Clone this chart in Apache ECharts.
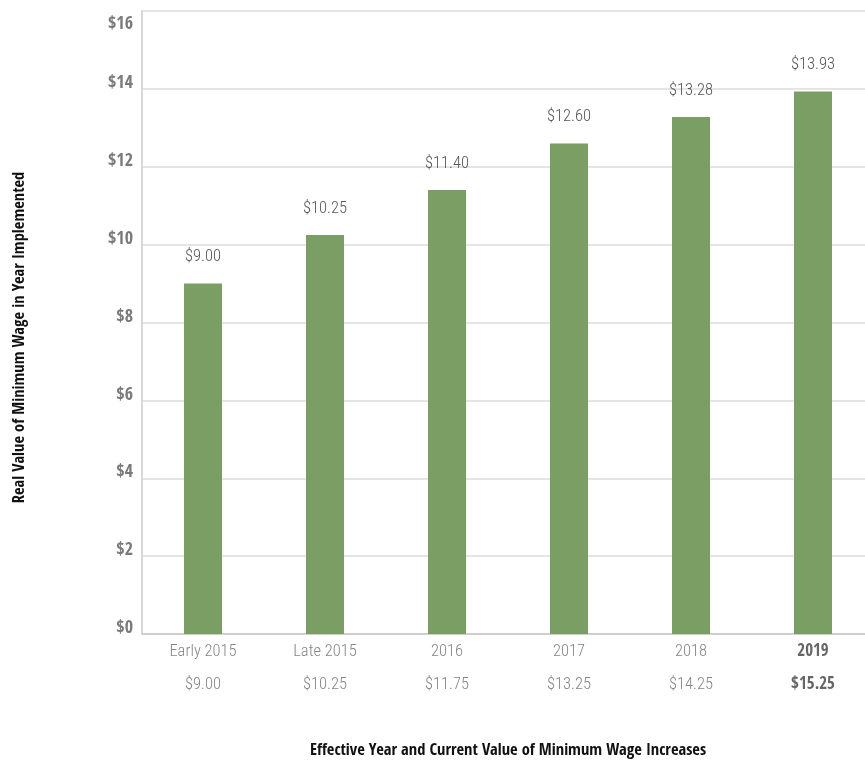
<!DOCTYPE html>
<html>
<head>
<meta charset="utf-8">
<script src="https://cdn.jsdelivr.net/npm/echarts@6/dist/echarts.min.js"></script>
<style>
html,body{margin:0;padding:0;background:#fff;}
#chart{width:865px;height:764px;}
</style>
</head>
<body>
<div id="chart"></div>
<script>
const years = ['Early 2015', 'Late 2015', '2016', '2017', '2018', '2019'];
const currentValues = ['$9.00', '$10.25', '$11.75', '$13.25', '$14.25', '$15.25'];
const realValues = [9.00, 10.25, 11.40, 12.60, 13.28, 13.93];
const yMin = 0, yMax = 16, yStep = 2;

const FONT = '"Open Sans Condensed", "Roboto Condensed", sans-serif';
const LIGHT = '"Roboto Condensed", sans-serif';

const yLab = { fontFamily: FONT, fontSize: 18, fontWeight: 'bold', color: '#7a7a7a' };

const chart = echarts.init(document.getElementById('chart'));
chart.setOption({
  animation: false,
  grid: { left: 142, top: 11, width: 732, bottom: 130, containLabel: false, outerBoundsMode: 'none' },
  xAxis: {
    type: 'category',
    data: years,
    name: 'Effective Year and Current Value of Minimum Wage Increases',
    nameLocation: 'middle',
    nameGap: 108,
    nameTextStyle: { fontFamily: FONT, fontSize: 16.5, fontWeight: 'bold', color: '#111' },
    axisLine: { lineStyle: { color: '#cfcfcf', width: 2 } },
    axisTick: { show: false },
    axisLabel: {
      margin: 1,
      formatter: function (v, i) {
        const k = i === years.length - 1 ? 'b' : 'a';
        return '{' + k + '|' + v + '}\n{' + k + '|' + currentValues[i] + '}';
      },
      rich: {
        a: { fontFamily: LIGHT, fontSize: 16.5, fontWeight: 300, color: '#858585', lineHeight: 33 },
        b: { fontFamily: FONT, fontSize: 17, color: '#666', fontWeight: 'bold', lineHeight: 33 }
      }
    }
  },
  yAxis: {
    type: 'value',
    min: yMin, max: yMax, interval: yStep,
    name: 'Real Value of Minimum Wage in Year Implemented',
    nameLocation: 'middle',
    nameRotate: 90,
    nameGap: 114,
    nameTextStyle: { fontFamily: FONT, fontSize: 16.5, fontWeight: 'bold', color: '#111', padding: [0, 30, 0, 0] },
    axisLine: { show: true, lineStyle: { color: '#d6d6d6', width: 2 } },
    axisTick: { show: false },
    axisLabel: {
      margin: 9,
      formatter: v => (v === yMax ? '{t|$' + v + '}' : '{n|$' + v + '}'),
      rich: {
        n: Object.assign({ padding: [0, 0, 11, 0] }, yLab),
        t: Object.assign({ padding: [26, 0, 0, 0] }, yLab)
      }
    },
    splitLine: { lineStyle: { color: '#dcdcdc', width: 1.5 } }
  },
  series: [{
    type: 'bar',
    data: realValues,
    barWidth: 38,
    itemStyle: { color: '#7a9e64' },
    label: {
      show: true,
      position: 'top',
      distance: 18,
      formatter: p => '$' + p.value.toFixed(2),
      fontFamily: LIGHT, fontSize: 16.5, fontWeight: 300, color: '#555'
    }
  }]
});
</script>
</body>
</html>
